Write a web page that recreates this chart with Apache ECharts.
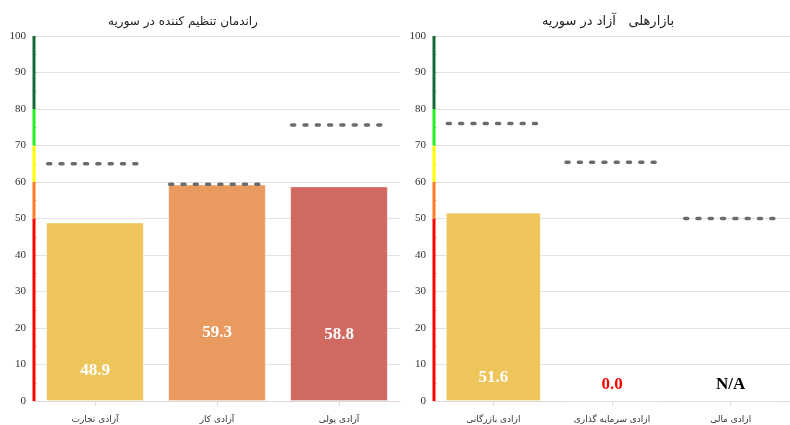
<!DOCTYPE html>
<html>
<head>
<meta charset="utf-8">
<script src="https://cdn.jsdelivr.net/npm/echarts@6/dist/echarts.min.js"></script>
<style>html,body{margin:0;padding:0;background:#fff}#c{width:790px;height:425px}</style>
</head>
<body>
<div id="c"></div>
<script>
// ---- data ----
const leftTitle = 'راندمان تنظیم کننده در سوریه';
const rightTitle = 'بازارهلی   آزاد در سوریه';
const leftCategories = ['آزادی تجارت', 'آزادی کار', 'آزادی پولی'];
const rightCategories = ['ازادی بازرگانی', 'ازادی سرمایه گذاری', 'ازادی مالی'];
const leftValues = [48.9, 59.3, 58.8];
const rightValues = [51.6, 0.0, null]; // null = N/A
const leftTargets = [65, 59.4, 75.6];
const rightTargets = [76, 65.4, 50];
const bandFrom = [0, 50, 60, 70, 80];
const bandTo = [50, 60, 70, 80, 100];
const yTicks = [0, 10, 20, 30, 40, 50, 60, 70, 80, 90, 100];

// ---- styles ----
const leftColors = ['#EEC55B', '#E99B5F', '#D0695F'];
const rightColors = ['#EEC55B', '#EEC55B', '#EEC55B'];
const bandColors = ['#FF0000', '#FF7A22', '#FFFF00', '#22EE22', '#17683A'];
const leftLabelDist = [22, 60, 58];
const rightLabelDist = [15, 8, 8];

const chart = echarts.init(document.getElementById('c'), null, {renderer: 'canvas'});

function yAxis(gi) {
  return {
    type: 'value', gridIndex: gi, min: yTicks[0], max: yTicks[yTicks.length - 1], interval: yTicks[1] - yTicks[0],
    axisLine: {show: false},
    axisTick: {show: true, inside: true, length: 3, lineStyle: {color: '#d0d0d0'}},
    minorTick: {show: true, splitNumber: 2, length: 3, lineStyle: {color: '#d0d0d0'}},
    splitLine: {lineStyle: {color: '#e2e2e2'}},
    axisLabel: {fontFamily: 'Liberation Serif', fontSize: 11, color: '#333', margin: 8}
  };
}
function xAxis(gi, cats) {
  return {
    type: 'category', gridIndex: gi, data: cats,
    axisLine: {lineStyle: {color: '#d9d9d9'}},
    axisTick: {show: true, alignWithLabel: true, length: 5, lineStyle: {color: '#d9d9d9'}},
    axisLabel: {fontFamily: 'DejaVu Sans', fontSize: 9, color: '#333', margin: 14}
  };
}
function barSeries(gi, values, colors, dists) {
  return {
    type: 'bar', xAxisIndex: gi, yAxisIndex: gi, barCategoryGap: '20%',
    data: values.map((v, i) => {
      const na = v === null;
      return {
        value: na ? 0 : v,
        itemStyle: {color: colors[i], borderColor: 'rgba(255,255,255,0.35)', borderWidth: 1},
        label: {
          show: true, position: 'insideBottom', distance: dists[i],
          fontFamily: 'Liberation Serif', fontWeight: 'bold', fontSize: 17,
          color: na ? '#000' : (v === 0 ? '#FF0000' : '#fff'),
          formatter: na ? 'N/A' : v.toFixed(1)
        }
      };
    })
  };
}
function targetSeries(gi, targets) {
  return {
    type: 'custom', xAxisIndex: gi, yAxisIndex: gi, z: 5,
    data: targets.map((t, i) => [i, t]),
    renderItem: function (params, api) {
      const p = api.coord([api.value(0), api.value(1)]);
      const bw = api.size([1, 0])[0] * 0.8;
      return {
        type: 'line',
        shape: {x1: p[0] - bw / 2 + 1.5, y1: p[1], x2: p[0] + bw / 2, y2: p[1]},
        style: {stroke: '#6b6b6b', lineWidth: 3.5, lineDash: [3, 9.3], lineCap: 'round'}
      };
    }
  };
}
function bandSeries(gi) {
  return {
    type: 'custom', xAxisIndex: gi, yAxisIndex: gi, z: 6, silent: true,
    data: bandFrom.map((f, i) => [0, f, bandTo[i], i]),
    renderItem: function (params, api) {
      const x = params.coordSys.x;
      const a = api.coord([0, api.value(1)]);
      const b = api.coord([0, api.value(2)]);
      return {
        type: 'rect',
        shape: {x: x - 1.5, y: b[1], width: 3, height: a[1] - b[1]},
        style: {fill: bandColors[api.value(3)]}
      };
    }
  };
}

chart.setOption({
  animation: false,
  title: [
    {text: leftTitle, left: 178, top: 11, textAlign: 'center',
     textStyle: {fontFamily: 'DejaVu Sans', fontSize: 12, fontWeight: 'normal', color: '#222'}},
    {text: rightTitle, left: 603, top: 10, textAlign: 'center',
     textStyle: {fontFamily: 'DejaVu Sans', fontSize: 13, fontWeight: 'normal', color: '#222'}}
  ],
  grid: [
    {left: 34, top: 36, width: 366, bottom: 24},
    {left: 434, top: 36, width: 366, bottom: 24}
  ],
  xAxis: [xAxis(0, leftCategories), xAxis(1, rightCategories)],
  yAxis: [yAxis(0), yAxis(1)],
  series: [
    barSeries(0, leftValues, leftColors, leftLabelDist),
    barSeries(1, rightValues, rightColors, rightLabelDist),
    targetSeries(0, leftTargets),
    targetSeries(1, rightTargets),
    bandSeries(0),
    bandSeries(1)
  ]
});
</script>
</body>
</html>
